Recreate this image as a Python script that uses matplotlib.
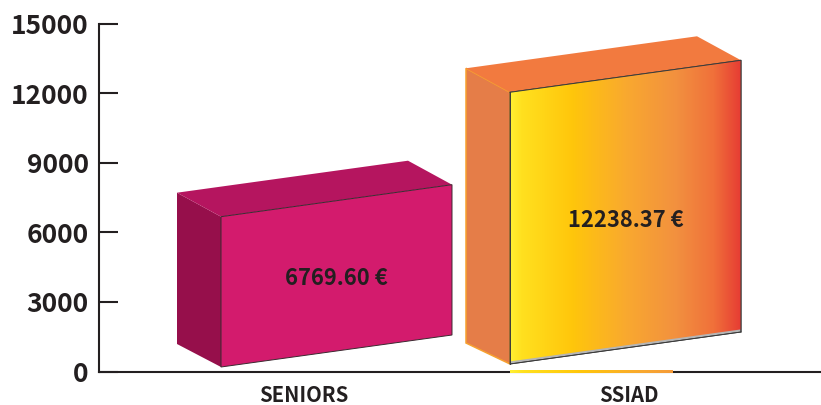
import numpy as np
import matplotlib
matplotlib.use("Agg")
import matplotlib.pyplot as plt
from matplotlib.colors import LinearSegmentedColormap
from matplotlib.patches import Polygon

categories = ["SENIORS", "SSIAD"]
values = [6769.60, 12238.37]
value_labels = ["6769.60 €", "12238.37 €"]
yticks = [0, 3000, 6000, 9000, 12000, 15000]

W, H = 821, 405
plt.rcParams["font.family"] = ["Noto Sans CJK SC", "DejaVu Sans"]
INK = "#231F20"

fig = plt.figure(figsize=(W / 100, H / 100), dpi=100)
L, R, T, B = 98.5, 820.5, 23.5, 371.5
ax = fig.add_axes([L / W, 1 - B / H, (R - L) / W, (B - T) / H])
PX_X = 325.0               # pixels per category step
PX_Y = (B - T) / 15000.0   # pixels per value unit
ax.set_xlim((L - 304) / PX_X, (R - 304) / PX_X)
ax.set_ylim(0, 15000)

# 3-D box geometry (in axis units)
front_offset = [-83 / PX_X, -119 / PX_X]
front_w = 231 / PX_X
rise = 32 / PX_Y
depth_x = -44 / PX_X
depth_y = 24 / PX_Y
base_depth_y = [23 / PX_Y, 21 / PX_Y]
base = [4.5 / PX_Y, 7.5 / PX_Y]
height_scale = 0.957


def faces(i):
    x0 = i + front_offset[i]
    x1 = x0 + front_w
    b = base[i]
    h = values[i] * height_scale
    front = [(x0, b), (x1, b + rise), (x1, b + rise + h), (x0, b + h)]
    top = [(x0, b + h), (x1, b + rise + h),
           (x1 + depth_x, b + rise + h + depth_y), (x0 + depth_x, b + h + depth_y)]
    side = [(x0, b), (x0, b + h), (x0 + depth_x, b + h + depth_y),
            (x0 + depth_x, b + base_depth_y[i])]
    return front, top, side


# SENIORS
f, t, s = faces(0)
ax.add_patch(Polygon(s, fc="#960F4B", ec="none", zorder=3))
ax.add_patch(Polygon(t, fc="#B5155F", ec="none", zorder=3))
ax.add_patch(Polygon(f, fc="#D31B6D", ec="#3A2A30", lw=0.7, zorder=4))

# SSIAD
grad = LinearSegmentedColormap.from_list(
    "ssiad",
    [(0, "#FFF033"), (0.05, "#FFE01F"), (0.27, "#FFC60B"), (0.5, "#F9A92F"),
     (0.72, "#F2903F"), (0.88, "#F0703A"), (1, "#E63B33")])
g = np.linspace(0, 1, 256).reshape(1, -1)

f, t, s = faces(1)
ax.add_patch(Polygon(s, fc="#E57D48", ec="#F7A12F", lw=1.1, zorder=3))
ax.add_patch(Polygon(t, fc="#F27A3F", ec="none", zorder=3))
# grey sliver below the front face
ax.add_patch(Polygon(f, fc="#B5B5B5", ec="#3A3A3A", lw=0.7, zorder=4))
x0, x1 = f[0][0], f[1][0]
lift = 2.6 / PX_Y
fg = [(x0, f[0][1] + lift), (x1, f[1][1] + lift), f[2], f[3]]
clip = Polygon(fg, transform=ax.transData, fc="none", ec="none")
ax.add_patch(clip)
im = ax.imshow(g, cmap=grad, aspect="auto", extent=(x0, x1, 0, 15000), zorder=4.5)
im.set_clip_path(clip)
ax.plot([x0, x0], [f[0][1], f[3][1]], color="#3A3A3A", lw=0.7, zorder=5)
ax.plot([x0, x1, x1], [f[3][1], f[2][1], f[1][1]], color="#3A3A3A", lw=0.7, zorder=5)
ax.plot([x0, x1], [f[0][1], f[1][1]], color="#3A3A3A", lw=0.6, zorder=5)

# gradient foot drawn over the axis line
foot_w = 162 / PX_X
ax.imshow(g[:, :160], cmap=grad, vmin=0, vmax=1, aspect="auto",
          extent=(x0, x0 + foot_w, -1.2 / PX_Y, 1.2 / PX_Y), zorder=6, clip_on=False)
ax.set_xlim((L - 304) / PX_X, (R - 304) / PX_X)
ax.set_ylim(0, 15000)

# labels on boxes
ax.text(0.1, 4030, value_labels[0], ha="center", va="center", fontsize=15.8,
        fontweight="bold", color=INK, zorder=7)
ax.text(0.9914, 6490, value_labels[1], ha="center", va="center",
        fontsize=15.8, fontweight="bold", color=INK, zorder=7)

for side_name in ("top", "right"):
    ax.spines[side_name].set_visible(False)
for side_name in ("left", "bottom"):
    ax.spines[side_name].set_linewidth(1.5)
    ax.spines[side_name].set_color(INK)
ax.set_xticks([0, 1], categories, fontsize=14.6, fontweight="bold", color=INK)
ax.tick_params(axis="x", length=0, pad=10)
ax.set_yticks(yticks, [str(v) for v in yticks], fontsize=19, fontweight="bold", color=INK)
ax.tick_params(axis="y", direction="in", length=14, width=1.5, color=INK, pad=7)

fig.savefig("out.png", dpi=100)
